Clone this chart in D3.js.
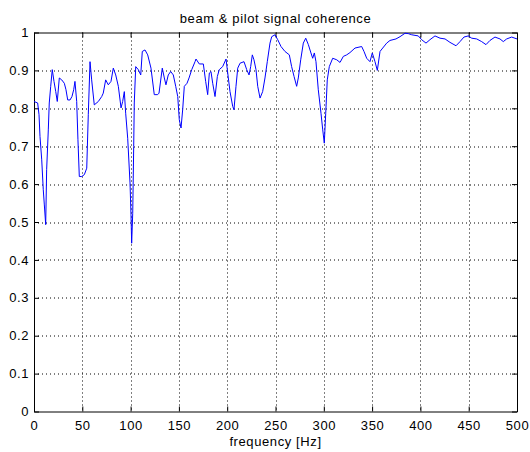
<!DOCTYPE html>
<html>
<head>
<meta charset="utf-8">
<script src="https://cdn.jsdelivr.net/npm/d3@7"></script>
<style>
  body { margin: 0; background: #fff; }
  svg text { font-family: "Liberation Sans", Arial, sans-serif; fill: #000; letter-spacing: 0.6px; }
</style>
</head>
<body>
<svg id="chart" width="530" height="452"></svg>
<script>
// frequency (Hz) and coherence
const freq = [0, 3.8, 5.2, 6.2, 8.0, 9.6, 10.7, 12.1, 13.1, 14.8, 15.8, 17.3, 18.9, 20.7, 22.5, 24.1,
  26.2, 28.7, 31.4, 33.1, 34.9, 37.3, 39.3, 41.1, 42.4, 44.2, 45.5, 46.9, 49.4, 52.1, 54.6, 56.2,
  58.0, 59.7, 62.4, 66.6, 70.1, 71.7, 74.2, 76.9, 79.7, 82.1, 84.6, 87.3, 90.1, 91.8, 93.5, 94.9,
  97.0, 99.4, 100.4, 101.1, 102.2, 103.2, 103.8, 105.3, 108.0, 110.5, 112.1, 114.9, 117.7, 121.1,
  124.5, 128.0, 129.4, 132.8, 134.9, 136.6, 139.0, 141.5, 144.2, 146.7, 148.8, 150.4, 152.2, 153.9,
  155.6, 158.4, 160.5, 163.3, 166.7, 167.7, 171.1, 175.3, 177.7, 179.8, 181.5, 183.2, 185.0, 187.4,
  189.8, 191.8, 195.3, 198.8, 200.1, 202.9, 205.7, 207.0, 209.1, 210.9, 213.3, 217.4, 220.2, 222.6,
  224.3, 226.0, 227.7, 229.8, 231.6, 234.0, 236.7, 239.1, 241.5, 244.3, 246.1, 249.5, 252.3, 255.7,
  259.8, 264.3, 266.7, 269.2, 271.9, 273.6, 276.1, 278.8, 281.3, 284.0, 286.7, 288.5, 290.2, 291.9,
  294.3, 297.1, 298.9, 300.5, 302.0, 303.6, 305.7, 309.2, 313.4, 316.8, 320.2, 323.7, 327.1, 332.3,
  339.2, 341.6, 344.4, 347.8, 350.2, 353.0, 355.4, 358.2, 361.0, 365.1, 368.5, 374.7, 378.9, 384.1,
  387.5, 391.0, 397.8, 401.3, 405.8, 409.9, 415.1, 420.3, 425.5, 430.6, 436.9, 441.0, 445.1, 449.6,
  453.1, 458.3, 463.4, 467.9, 472.0, 477.2, 482.4, 485.8, 489.3, 494.5, 500];
const coherence = [0.818, 0.814, 0.783, 0.726, 0.664, 0.585, 0.545, 0.493, 0.638, 0.743, 0.814, 0.858,
  0.902, 0.871, 0.844, 0.818, 0.880, 0.875, 0.866, 0.849, 0.822, 0.822, 0.831, 0.849, 0.871, 0.818,
  0.717, 0.620, 0.620, 0.625, 0.642, 0.783, 0.923, 0.875, 0.809, 0.818, 0.831, 0.840, 0.875, 0.862,
  0.871, 0.906, 0.888, 0.858, 0.801, 0.818, 0.844, 0.787, 0.721, 0.603, 0.519, 0.444, 0.523, 0.699,
  0.814, 0.910, 0.902, 0.888, 0.950, 0.954, 0.941, 0.906, 0.836, 0.836, 0.840, 0.906, 0.880, 0.862,
  0.888, 0.897, 0.888, 0.858, 0.831, 0.770, 0.748, 0.796, 0.858, 0.866, 0.880, 0.902, 0.923, 0.930,
  0.917, 0.917, 0.871, 0.836, 0.893, 0.897, 0.866, 0.831, 0.884, 0.902, 0.910, 0.930, 0.902, 0.844,
  0.805, 0.796, 0.858, 0.906, 0.919, 0.923, 0.902, 0.888, 0.910, 0.941, 0.928, 0.902, 0.858, 0.827,
  0.844, 0.880, 0.923, 0.972, 0.989, 0.994, 0.981, 0.963, 0.950, 0.941, 0.910, 0.884, 0.858, 0.880,
  0.928, 0.972, 0.985, 0.968, 0.946, 0.932, 0.946, 0.923, 0.849, 0.787, 0.743, 0.708, 0.787, 0.875,
  0.910, 0.932, 0.928, 0.921, 0.937, 0.941, 0.947, 0.959, 0.963, 0.950, 0.932, 0.923, 0.946, 0.923,
  0.900, 0.950, 0.959, 0.972, 0.979, 0.983, 0.989, 0.998, 0.997, 0.994, 0.991, 0.981, 0.972, 0.981,
  0.991, 0.985, 0.983, 0.974, 0.965, 0.976, 0.988, 0.991, 0.985, 0.983, 0.976, 0.968, 0.979, 0.988,
  0.983, 0.976, 0.983, 0.988, 0.983];
const xTicks = [0, 50, 100, 150, 200, 250, 300, 350, 400, 450, 500];
const yTicks = [0, 0.1, 0.2, 0.3, 0.4, 0.5, 0.6, 0.7, 0.8, 0.9, 1];

const svg = d3.select('svg#chart');
const margin = { top: 32.5, right: 13, bottom: 40.5, left: 34 };
const width = +svg.attr('width') - margin.left - margin.right;
const height = +svg.attr('height') - margin.top - margin.bottom;
const TICK = 5;
const FONT = '13px';

const g = svg.append('g').attr('transform', `translate(${margin.left},${margin.top})`);
const x = d3.scaleLinear().domain([0, 500]).range([0, width]);
const y = d3.scaleLinear().domain([0, 1]).range([height, 0]);

// dotted grid
g.append('g').selectAll('line').data(xTicks.slice(1, -1)).join('line')
    .attr('x1', d => Math.round(x(d)) + 0.5).attr('x2', d => Math.round(x(d)) + 0.5)
    .attr('y1', 0).attr('y2', height)
    .attr('stroke', '#000').attr('stroke-dasharray', '1,3');
g.append('g').selectAll('line').data(yTicks.slice(1, -1)).join('line')
    .attr('y1', d => Math.round(y(d)) + 0.5).attr('y2', d => Math.round(y(d)) + 0.5)
    .attr('x1', 0).attr('x2', width)
    .attr('stroke', '#000').attr('stroke-dasharray', '1,3');

// axes (ticks inward, box on all four sides)
const fmt = d => String(d);
const axBottom = g.append('g').attr('transform', `translate(0,${height})`)
    .call(d3.axisBottom(x).tickValues(xTicks).tickFormat(fmt).tickSizeInner(-TICK).tickSizeOuter(0).tickPadding(9));
const axTop = g.append('g')
    .call(d3.axisTop(x).tickValues(xTicks).tickFormat('').tickSizeInner(-TICK).tickSizeOuter(0));
const axLeft = g.append('g')
    .call(d3.axisLeft(y).tickValues(yTicks).tickFormat(fmt).tickSizeInner(-TICK).tickSizeOuter(0).tickPadding(5));
const axRight = g.append('g').attr('transform', `translate(${width},0)`)
    .call(d3.axisRight(y).tickValues(yTicks).tickFormat('').tickSizeInner(-TICK).tickSizeOuter(0));
[axBottom, axTop, axLeft, axRight].forEach(a => {
  a.selectAll('text').style('font-size', FONT).attr('fill', '#000');
  a.selectAll('line, path').attr('stroke', '#000');
});

// coherence curve
const line = d3.line()
    .x((d, i) => x(freq[i]))
    .y(d => y(d));
g.append('path')
    .datum(coherence)
    .attr('fill', 'none')
    .attr('stroke', '#0000ff')
    .attr('stroke-width', 1)
    .attr('d', line);

// labels
svg.append('text')
    .attr('x', margin.left + width / 2).attr('y', 23)
    .attr('text-anchor', 'middle').style('font-size', FONT)
    .text('beam & pilot signal coherence');
svg.append('text')
    .attr('x', margin.left + width / 2).attr('y', 446)
    .attr('text-anchor', 'middle').style('font-size', FONT)
    .text('frequency [Hz]');
</script>
</body>
</html>
